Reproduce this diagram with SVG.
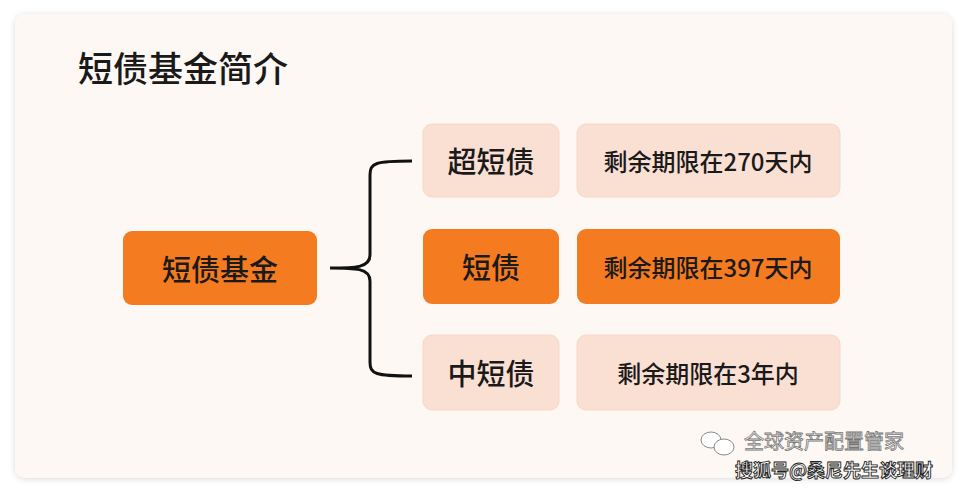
<svg xmlns="http://www.w3.org/2000/svg" width="968" height="491" viewBox="0 0 968 491">
<defs>
<style>
text{font-family:"Noto Sans CJK SC","Noto Sans",sans-serif;fill:#1a1a1a;text-anchor:middle;dominant-baseline:central}
.light{fill:#fadfd3;stroke:#f7d6c7;stroke-width:1}
.dark{fill:#f47b20}
.lbl{font-size:29px;font-weight:500}
.desc{font-size:24px;font-weight:500}
.wm{fill:#fff;stroke:#777;stroke-width:0.8;font-size:20px;text-anchor:start}
</style>
<filter id="sh" x="-5%" y="-5%" width="110%" height="110%"><feDropShadow dx="0" dy="1" stdDeviation="3" flood-color="#000" flood-opacity="0.15"/></filter>
</defs>
<rect x="0" y="0" width="968" height="491" fill="#ffffff"/>
<rect x="15" y="14" width="937" height="464" rx="10" fill="#fdf8f3" filter="url(#sh)"/>
<text x="78" y="66" style="font-size:35px;font-weight:500;text-anchor:start">短债基金简介</text>
<g id="connectors">
<path d="M330 268 C355 268 370 268 370 255 L370 175 C370 163 375 161 412 161 M330 268 C355 268 370 268 370 281 L370 362 C370 374 375 376 412 376" fill="none" stroke="#111" stroke-width="3"/>
</g>
<g id="root"><rect class="dark" x="123" y="231" width="194" height="74" rx="9"/><text class="lbl" x="220" y="268">短债基金</text></g>
<g id="n1"><rect class="light" x="423" y="124" width="136" height="73" rx="9"/><text class="lbl" x="491" y="160">超短债</text></g>
<g id="n2"><rect class="dark" x="423" y="229" width="136" height="75" rx="9"/><text class="lbl" x="491" y="266">短债</text></g>
<g id="n3"><rect class="light" x="423" y="335" width="136" height="75" rx="9"/><text class="lbl" x="491" y="372">中短债</text></g>
<g id="d1"><rect class="light" x="577" y="124" width="263" height="73" rx="9"/><text class="desc" x="708" y="160">剩余期限在270天内</text></g>
<g id="d2"><rect class="dark" x="577" y="229" width="263" height="75" rx="9"/><text class="desc" x="708" y="266">剩余期限在397天内</text></g>
<g id="d3"><rect class="light" x="577" y="335" width="263" height="75" rx="9"/><text class="desc" x="708" y="372">剩余期限在3年内</text></g>
<g id="wm">
<ellipse cx="711" cy="440" rx="10" ry="8" fill="#fff" stroke="#888"/>
<ellipse cx="724" cy="447" rx="10" ry="8" fill="#fff" stroke="#888"/>
<text class="wm" x="744" y="440">全球资产配置管家</text>
<text x="834" y="469" style="font-size:18px;font-weight:700;fill:#fff;stroke:#222;stroke-width:0.9">搜狐号@桑尼先生谈理财</text>
</g>
</svg>
